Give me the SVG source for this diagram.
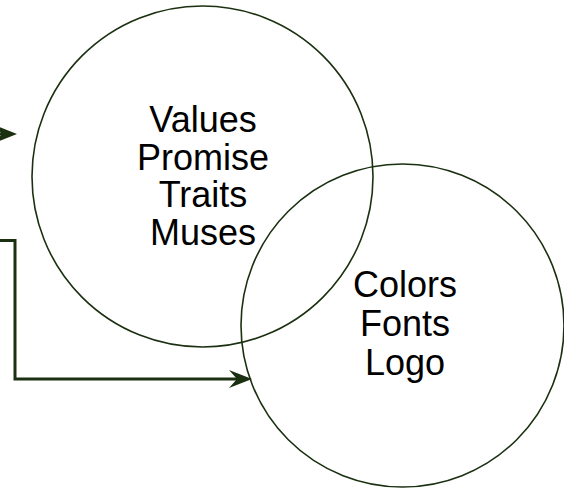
<svg xmlns="http://www.w3.org/2000/svg" width="564" height="489" viewBox="0 0 564 489">
  <style>
    .node { fill: none; stroke: #1a3010; stroke-width: 1.6; }
    .label { font-family: "Liberation Sans", Arial, Helvetica, sans-serif; font-size: 36px; fill: #000000; text-anchor: middle; }
    .edge { fill: none; stroke: #1a3010; stroke-width: 3; }
  </style>
  <defs>
    <marker id="arrow" markerUnits="userSpaceOnUse" markerWidth="24" markerHeight="20" refX="8" refY="9" orient="auto" overflow="visible">
      <path d="M0,0 L23,9 L0,18 L8,9 Z" fill="#1a3010"/>
    </marker>
  </defs>
  <g id="circle-core">
    <circle class="node" cx="202.5" cy="176.5" r="170.5"/>
  </g>
  <g id="circle-identity">
    <circle class="node" cx="402.5" cy="325.5" r="161.5"/>
  </g>
  <g id="label-core">
    <text class="label" x="203" y="132">Values</text>
    <text class="label" x="203" y="169.5">Promise</text>
    <text class="label" x="203" y="207">Traits</text>
    <text class="label" x="203" y="244.5">Muses</text>
  </g>
  <g id="label-identity">
    <text class="label" x="405" y="297">Colors</text>
    <text class="label" x="405" y="336">Fonts</text>
    <text class="label" x="405" y="375">Logo</text>
  </g>
  <g id="connectors">
    <path class="edge" d="M-30,134 L2,134" marker-end="url(#arrow)"/>
    <path class="edge" d="M-2,240.5 L15,240.5 L15,379 L237,379" marker-end="url(#arrow)"/>
  </g>
</svg>
